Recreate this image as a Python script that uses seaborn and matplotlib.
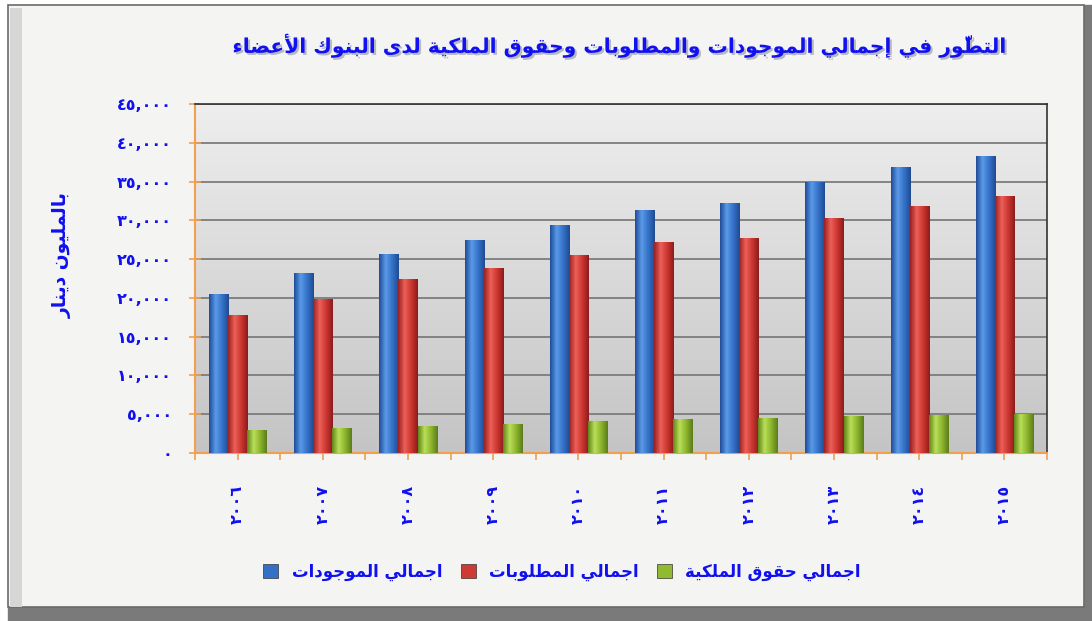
import numpy as np
import pandas as pd
import seaborn as sns
import matplotlib
matplotlib.use('Agg')
import matplotlib.pyplot as plt
import matplotlib.patheffects as pe
from matplotlib.patches import Rectangle, Patch
from matplotlib.colors import LinearSegmentedColormap

# data (million dinars)
years = ['٢٠٠٦', '٢٠٠٧', '٢٠٠٨', '٢٠٠٩', '٢٠١٠', '٢٠١١', '٢٠١٢', '٢٠١٣', '٢٠١٤', '٢٠١٥']
assets = [20500, 23200, 25700, 27400, 29400, 31300, 32200, 34900, 36900, 38300]
liabilities = [17800, 19900, 22500, 23800, 25500, 27200, 27700, 30300, 31800, 33200]
equity = [3000, 3250, 3500, 3700, 4100, 4400, 4500, 4800, 4900, 5000]
series_names = ['اجمالي الموجودات', 'اجمالي المطلوبات', 'اجمالي حقوق الملكية']
y_ticks = [0, 5000, 10000, 15000, 20000, 25000, 30000, 35000, 40000, 45000]
title = 'التطوّر في إجمالي الموجودات والمطلوبات وحقوق الملكية لدى البنوك الأعضاء'
y_label = 'بالمليون دينار'

# matplotlib has no arabic shaping, so pick the presentation forms by hand
FORMS = {'ء': (0xFE80, 1), 'آ': (0xFE81, 2), 'أ': (0xFE83, 2), 'إ': (0xFE87, 2), 'ا': (0xFE8D, 2),
         'ب': (0xFE8F, 4), 'ة': (0xFE93, 2), 'ت': (0xFE95, 4), 'ج': (0xFE9D, 4), 'ح': (0xFEA1, 4),
         'د': (0xFEA9, 2), 'ر': (0xFEAD, 2), 'ض': (0xFEBD, 4), 'ط': (0xFEC1, 4), 'ع': (0xFEC9, 4),
         'ف': (0xFED1, 4), 'ق': (0xFED5, 4), 'ك': (0xFED9, 4), 'ل': (0xFEDD, 4), 'م': (0xFEE1, 4),
         'ن': (0xFEE5, 4), 'و': (0xFEED, 2), 'ى': (0xFEEF, 2), 'ي': (0xFEF1, 4)}
LAM_ALEF = {'آ': 0xFEF5, 'أ': 0xFEF7, 'إ': 0xFEF9, 'ا': 0xFEFB}


def kind(c):
    if c in FORMS:
        return FORMS[c][1]
    if len(c) == 2:
        return 2
    return 0


def shape(text):
    clusters = []
    for ch in text:
        if ch == '\u0651' and clusters:
            clusters[-1][1] += ch
        elif ch in LAM_ALEF and clusters and clusters[-1] == ['ل', '']:
            clusters[-1][0] = 'ل' + ch
        else:
            clusters.append([ch, ''])
    out = []
    for i, (c, marks) in enumerate(clusters):
        n = kind(c)
        joins_prev = i > 0 and kind(clusters[i - 1][0]) == 4
        joins_next = i + 1 < len(clusters) and kind(clusters[i + 1][0]) >= 2
        if n == 0:
            glyph = c
        else:
            base = LAM_ALEF[c[1]] if len(c) == 2 else FORMS[c][0]
            if n == 4:
                idx = [[0, 2], [1, 3]][joins_prev][joins_next]
            elif n == 2:
                idx = 1 if joins_prev else 0
            else:
                idx = 0
            glyph = chr(base + idx)
        out.append(glyph + marks)
    return ''.join(reversed(out))


def arabic_num(v):
    return f'{v:,}'.translate(str.maketrans('0123456789', '٠١٢٣٤٥٦٧٨٩'))


labels = [shape(s) for s in series_names]
df = pd.DataFrame({
    'year': years * 3,
    'value': assets + liabilities + equity,
    'series': [labels[0]] * 10 + [labels[1]] * 10 + [labels[2]] * 10,
})

plt.rcParams['font.family'] = ['DejaVu Sans']
blue_txt = '#1010f0'
orange = '#f0a050'
colors = ['#3470c8', '#d03a34', '#90ba30']
grads = [['#1f4c98', '#5a9ae8', '#3572c8', '#1f4a92'],
         ['#9a2020', '#ec6058', '#cc3630', '#8c1c1c'],
         ['#62861a', '#badf58', '#8cb42c', '#5c7c1c']]

fig = plt.figure(figsize=(10.92, 6.21), dpi=100, facecolor='white')
W, H = 1092, 621
# frame with grey bevel / shadow
fig.patches.append(Rectangle((8 / W, 0), 1 - 8 / W, 14 / H, transform=fig.transFigure, color='#7a7a7a', zorder=-5))
fig.patches.append(Rectangle((1084 / W, 0), 8 / W, 1 - 5 / H, transform=fig.transFigure, color='#7a7a7a', zorder=-5))
fig.patches.append(Rectangle((8 / W, 14 / H), 1076 / W, (H - 19) / H, transform=fig.transFigure,
                             facecolor='#f4f4f2', edgecolor='#6a6a6a', lw=1.2, zorder=-4))
fig.patches.append(Rectangle((10 / W, 14 / H), 12 / W, (H - 22) / H, transform=fig.transFigure,
                             facecolor='#d6d6d6', edgecolor='none', zorder=-3))

ax = fig.add_axes([195 / W, 1 - 453 / H, 852 / W, 349 / H])
sns.barplot(data=df, x='year', y='value', hue='series', palette=colors, width=0.67, gap=0,
            saturation=1, legend=False, ax=ax, zorder=3)

# gradient background of the plot area
bg = np.linspace(0, 1, 256).reshape(-1, 1)
bg_cmap = LinearSegmentedColormap.from_list('bg', ['#c4c4c4', '#eeeeee'])
ax.imshow(bg, extent=[-0.5, 9.5, 0, 45000], origin='lower', cmap=bg_cmap, aspect='auto', zorder=0)

# rounded look for the bars
xs = np.linspace(0, 1, 64).reshape(1, -1)
for k, bar in enumerate(ax.patches[:30]):
    cmap = LinearSegmentedColormap.from_list('b%d' % k, grads[k // 10])
    x0, y0 = bar.get_x(), bar.get_y()
    im = ax.imshow(xs, extent=[x0, x0 + bar.get_width(), y0, y0 + bar.get_height()],
                   cmap=cmap, aspect='auto', zorder=4)
    im.set_clip_path(bar)

ax.set_xlim(-0.5, 9.5)
ax.set_ylim(0, 45000)
ax.set_yticks(y_ticks)
ax.set_yticklabels([arabic_num(v) for v in y_ticks])
ax.set_xticks(range(10))
ax.set_xticklabels(years, rotation=90)
ax.set_xticks(np.arange(-0.5, 10, 1), minor=True)
ax.grid(axis='y', color='#7c7c7c', lw=1.3)
ax.set_axisbelow(True)
ax.set_xlabel('')
ax.set_ylabel('')
for s in ['left', 'bottom']:
    ax.spines[s].set_color(orange)
    ax.spines[s].set_linewidth(1.5)
for s in ['top', 'right']:
    ax.spines[s].set_color('#333333')
    ax.spines[s].set_linewidth(1.2)
ax.tick_params(axis='y', colors=orange, labelcolor=blue_txt, labelsize=11.5, direction='inout',
               length=9, width=1.2, pad=12)
ax.tick_params(axis='x', which='both', colors=orange, labelcolor=blue_txt, labelsize=11.5,
               direction='out', length=5, width=1.2, pad=18)
for t in ax.get_xticklabels() + ax.get_yticklabels():
    t.set_fontweight('bold')

shadow = [pe.SimplePatchShadow(offset=(1.5, -1.5), shadow_rgbFace='#9090a0', alpha=0.6), pe.Normal()]
fig.text(620 / W, 1 - 46 / H, shape(title), color=blue_txt, fontsize=14.6, fontweight='bold',
         ha='center', va='center', path_effects=shadow)
fig.text(62 / W, 1 - 255 / H, shape(y_label), color=blue_txt, fontsize=13.5, fontweight='bold',
         rotation=90, ha='center', va='center')

handles = [Patch(facecolor=c, edgecolor='#333333', lw=0.5) for c in colors]
fig.legend(handles, labels, loc='center', bbox_to_anchor=(562 / W, 1 - 572 / H), ncol=3,
           frameon=False, handlelength=0.9, handleheight=0.9, columnspacing=1.1,
           handletextpad=0.8, prop={'weight': 'bold', 'size': 12}, labelcolor=blue_txt)

fig.savefig('out.png', dpi=100, facecolor=fig.get_facecolor())
